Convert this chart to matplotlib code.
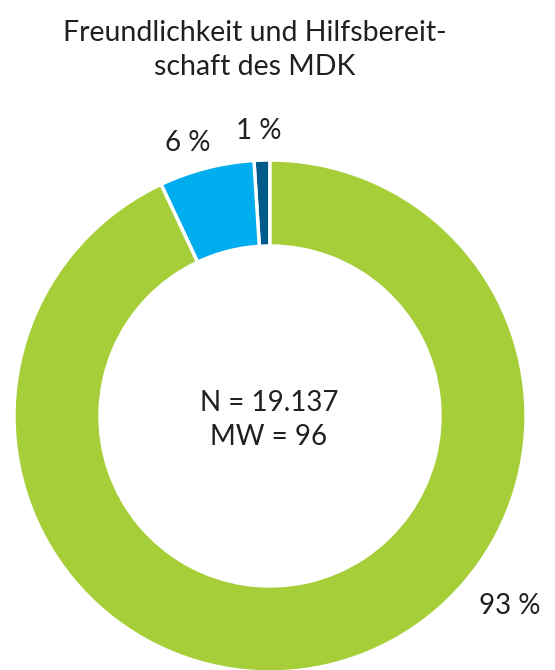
import matplotlib.pyplot as plt

# data
labels = ["1 %", "6 %", "93 %"]
values = [1, 6, 93]
colors = ["#005A8C", "#00AEEF", "#A6CE39"]
title = "Freundlichkeit und Hilfsbereit-\nschaft des MDK"
center_text = "N = 19.137\nMW = 96"

W, H = 555, 670
plt.rcParams['font.family'] = ['Lato', 'DejaVu Sans']
txt_color = "#231F20"

fig = plt.figure(figsize=(W / 100, H / 100), dpi=100)

# donut: center (270, 416) px, outer radius 256 px
cx, cy, r = 270, 416, 256
ax = fig.add_axes([(cx - r) / W, (H - cy - r) / H, 2 * r / W, 2 * r / H])
ax.pie(values, colors=colors, startangle=90, counterclock=True,
       radius=1, wedgeprops=dict(width=0.336, edgecolor="white", linewidth=2.5))
ax.set_xlim(-1, 1)
ax.set_ylim(-1, 1)
ax.set_aspect("equal")
ax.axis("off")
for p in ax.patches:
    p.set_clip_on(False)

def px(x, y):
    return x / W, 1 - y / H

fig.text(*px(255, 50), title, ha="center", va="center", fontsize=20.5,
         color=txt_color, linespacing=1.38)
fig.text(*px(269, 420), center_text, ha="center", va="center", fontsize=20,
         color=txt_color, linespacing=1.4)

label_pos = [(259, 131), (188, 143), (510, 606)]
for lab, (x, y) in zip(labels, label_pos):
    fig.text(*px(x, y), lab, ha="center", va="center", fontsize=20, color=txt_color)

fig.savefig("out.png", dpi=100)
